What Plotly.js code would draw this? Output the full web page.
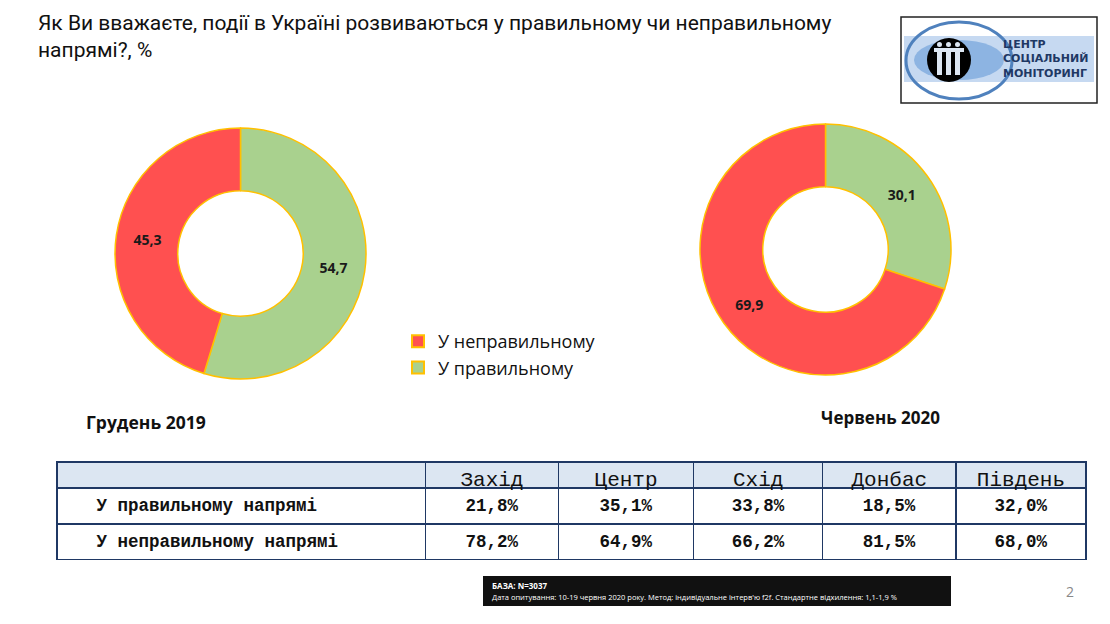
<!DOCTYPE html>
<html>
<head>
<meta charset="utf-8">
<script src="https://cdn.plot.ly/plotly-3.0.1.min.js"></script>
<style>html,body{margin:0;padding:0;background:#fff;}#chart{width:1110px;height:624px;}</style>
</head>
<body>
<div id="chart"></div>
<script>
// ---- data ----
const pieLabels = ['У правильному', 'У неправильному'];
const dec2019 = [54.7, 45.3];
const jun2020 = [30.1, 69.9];
const pieTitles = ['Грудень 2019', 'Червень 2020'];
const regions = ['Захід', 'Центр', 'Схід', 'Донбас', 'Південь'];
const rowLabels = ['У правильному напрямі', 'У неправильному напрямі'];
const rightPct = [21.8, 35.1, 33.8, 18.5, 32.0];
const wrongPct = [78.2, 64.9, 66.2, 81.5, 68.0];
const titleText = 'Як Ви вважаєте, події в Україні розвиваються у правильному чи неправильному<br>напрямі?, %';
const baseText = 'БАЗА: N=3037';
const noteText = 'Дата опитування: 10-19 червня 2020 року. Метод: індивідуальне інтерв\'ю f2f. Стандартне відхилення: 1,1-1,9 %';

// ---- helpers ----
const W = 1110, H = 624;
const px = x => x / W;
const py = y => 1 - y / H;
const fmt = v => v.toFixed(1).replace('.', ',') + '%';
const colors = ['#A9D18E', '#FF5050'];

function pie(values, x0, x1, y0, y1, showLegend) {
  return {
    type: 'pie',
    labels: pieLabels,
    values: values,
    hole: 0.5,
    sort: false,
    direction: 'clockwise',
    marker: {colors: colors, line: {color: '#FFC000', width: 1.5}},
    texttemplate: '<b>%{value:.1f}</b>',
    textposition: 'inside',
    insidetextorientation: 'horizontal',
    textfont: {family: 'Open Sans, sans-serif', size: 14, color: '#1a1a1a'},
    domain: {x: [px(x0), px(x1)], y: [py(y1), py(y0)]},
    showlegend: showLegend,
    hoverinfo: 'label+value'
  };
}

const bold = s => '<b>' + s + '</b>';
const table = {
  type: 'table',
  domain: {x: [px(57), px(1086)], y: [py(560), py(462)]},
  columnwidth: [368, 133, 135, 129, 133, 130],
  header: {
    values: [''].concat(regions),
    align: 'center',
    height: 26,
    fill: {color: '#DCE6F2'},
    line: {color: '#1F3864', width: 1.5},
    font: {family: 'Liberation Mono, Courier New, monospace', size: 21, color: '#111'}
  },
  cells: {
    values: [rowLabels.map(s => '   ' + bold(s))]
      .concat(regions.map((r, i) => [bold(fmt(rightPct[i])), bold(fmt(wrongPct[i]))])),
    align: ['left', 'center', 'center', 'center', 'center', 'center'],
    height: 26,
    fill: {color: '#FFFFFF'},
    line: {color: '#1F3864', width: 1.5},
    font: {family: 'Liberation Mono, Courier New, monospace', size: 17.5, color: '#111'}
  }
};

const data = [
  pie(dec2019, 115, 366, 128, 379, true),
  pie(jun2020, 700, 951, 124, 375, false),
  table
];

const shapes = [
  // logo frame
  {type: 'rect', xref: 'paper', yref: 'paper', x0: px(901), x1: px(1097), y0: py(103), y1: py(17), line: {color: '#222', width: 1.5}, fillcolor: '#fff'},
  {type: 'rect', xref: 'paper', yref: 'paper', x0: px(904), x1: px(1094), y0: py(82), y1: py(36), line: {width: 0}, fillcolor: '#C6D9F1'},
  {type: 'circle', xref: 'paper', yref: 'paper', x0: px(906), x1: px(1012), y0: py(99), y1: py(22), line: {color: '#4F81BD', width: 3}, fillcolor: 'rgba(0,0,0,0)'},
  {type: 'circle', xref: 'paper', yref: 'paper', x0: px(914), x1: px(1004), y0: py(80), y1: py(40), line: {width: 0}, fillcolor: '#8DB4E2'},
  {type: 'circle', xref: 'paper', yref: 'paper', x0: px(927), x1: px(971), y0: py(82), y1: py(38), line: {width: 0}, fillcolor: '#000'},
  {type: 'rect', xref: 'paper', yref: 'paper', x0: px(937), x1: px(942), y0: py(75), y1: py(52), line: {width: 0}, fillcolor: '#DCE6F2'},
  {type: 'rect', xref: 'paper', yref: 'paper', x0: px(946), x1: px(951), y0: py(75), y1: py(52), line: {width: 0}, fillcolor: '#DCE6F2'},
  {type: 'rect', xref: 'paper', yref: 'paper', x0: px(955), x1: px(960), y0: py(75), y1: py(52), line: {width: 0}, fillcolor: '#DCE6F2'},
  {type: 'rect', xref: 'paper', yref: 'paper', x0: px(934), x1: px(964), y0: py(52), y1: py(48), line: {width: 0}, fillcolor: '#DCE6F2'},
  {type: 'circle', xref: 'paper', yref: 'paper', x0: px(937), x1: px(942), y0: py(47), y1: py(42), line: {width: 0}, fillcolor: '#DCE6F2'},
  {type: 'circle', xref: 'paper', yref: 'paper', x0: px(946), x1: px(951), y0: py(47), y1: py(42), line: {width: 0}, fillcolor: '#DCE6F2'},
  {type: 'circle', xref: 'paper', yref: 'paper', x0: px(955), x1: px(960), y0: py(47), y1: py(42), line: {width: 0}, fillcolor: '#DCE6F2'},
  // bottom note box
  {type: 'rect', xref: 'paper', yref: 'paper', x0: px(483), x1: px(951), y0: py(606), y1: py(576), line: {width: 0}, fillcolor: '#111'}
];

const ann = (text, x, y, opts) => Object.assign({
  text: text, xref: 'paper', yref: 'paper', x: px(x), y: py(y), showarrow: false,
  xanchor: 'left', yanchor: 'middle'
}, opts || {});

const annotations = [
  ann(bold(pieTitles[0]), 84, 422, {font: {family: 'Open Sans, sans-serif', size: 17.5, color: '#111'}}),
  ann(bold(pieTitles[1]), 819, 417, {font: {family: 'Open Sans, sans-serif', size: 17, color: '#111'}}),
  ann(bold('ЦЕНТР<br>СОЦІАЛЬНИЙ<br>МОНІТОРИНГ'), 1001, 59, {align: 'left', font: {family: 'DejaVu Sans, sans-serif', size: 11, color: '#1F3864'}}),
  ann(bold(baseText), 490, 585, {font: {family: 'Open Sans, sans-serif', size: 8, color: '#fff'}}),
  ann(noteText, 490, 597, {font: {family: 'Open Sans, sans-serif', size: 7.5, color: '#fff'}}),
  ann('2', 1070, 591, {xanchor: 'center', font: {family: 'Open Sans, sans-serif', size: 14, color: '#888'}})
];

const layout = {
  width: W, height: H,
  margin: {l: 0, r: 0, t: 0, b: 0},
  paper_bgcolor: '#fff',
  separators: ', ',
  title: {
    text: titleText,
    x: px(38), xanchor: 'left', xref: 'paper',
    y: py(30), yanchor: 'top', yref: 'paper',
    font: {family: 'Liberation Sans Narrow, Roboto, sans-serif', size: 21, color: '#111'}
  },
  legend: {
    x: px(398), y: py(323), xanchor: 'left', yanchor: 'top',
    traceorder: 'reversed',
    font: {family: 'Open Sans, sans-serif', size: 18, color: '#111'},
    bgcolor: 'rgba(0,0,0,0)', itemsizing: 'constant'
  },
  shapes: shapes,
  annotations: annotations
};

Plotly.newPlot('chart', data, layout, {displayModeBar: false, staticPlot: true});
</script>
</body>
</html>
